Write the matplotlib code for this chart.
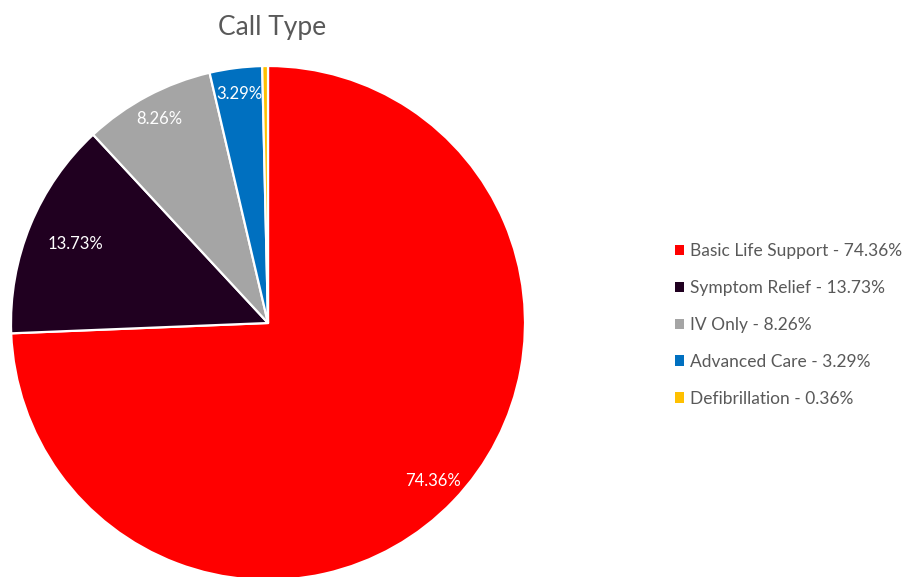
import numpy as np
import matplotlib.pyplot as plt
from matplotlib.patches import Patch

plt.rcParams['font.family'] = ['Lato', 'DejaVu Sans']

categories = ["Basic Life Support", "Symptom Relief", "IV Only", "Advanced Care", "Defibrillation"]
shares = [74.36, 13.73, 8.26, 3.29, 0.36]
colors = ["#FF0000", "#200020", "#A5A5A5", "#0070C0", "#FFC000"]
title = "Call Type"

# radial distance of each percentage label (None = no label)
label_radius = [0.89, 0.81, 0.90, 0.90, None]

fig = plt.figure(figsize=(9.06, 5.77), dpi=100)
W, H = 906, 577
cx, cy, r = 268, 323, 257
ax = fig.add_axes([(cx - r) / W, (H - cy - r) / H, 2 * r / W, 2 * r / H])

wedges, _ = ax.pie(shares, colors=colors, startangle=90, counterclock=False,
                   radius=1, wedgeprops=dict(edgecolor="white", linewidth=1.6))
ax.set_xlim(-1, 1)
ax.set_ylim(-1, 1)
ax.set_aspect("auto")
ax.axis("off")

for w, val, rad in zip(wedges, shares, label_radius):
    if rad is None:
        continue
    mid = np.deg2rad((w.theta1 + w.theta2) / 2)
    ax.text(rad * np.cos(mid), rad * np.sin(mid), f"{val:.2f}%",
            ha="center", va="center", color="white", fontsize=12)

fig.text(272 / W, 1 - 27 / H, title, ha="center", va="center",
         color="#595959", fontsize=19)

handles = [Patch(facecolor=c, edgecolor="none") for c in colors]
labels = [f"{n} - {v:.2f}%" for n, v in zip(categories, shares)]
fig.legend(handles, labels, loc="center left", bbox_to_anchor=(659 / W, 1 - 325 / H),
           frameon=False, fontsize=12.5, labelcolor="#595959",
           handlelength=0.55, handleheight=0.55, handletextpad=0.35,
           labelspacing=1.2)

fig.savefig("out.png", dpi=100)
